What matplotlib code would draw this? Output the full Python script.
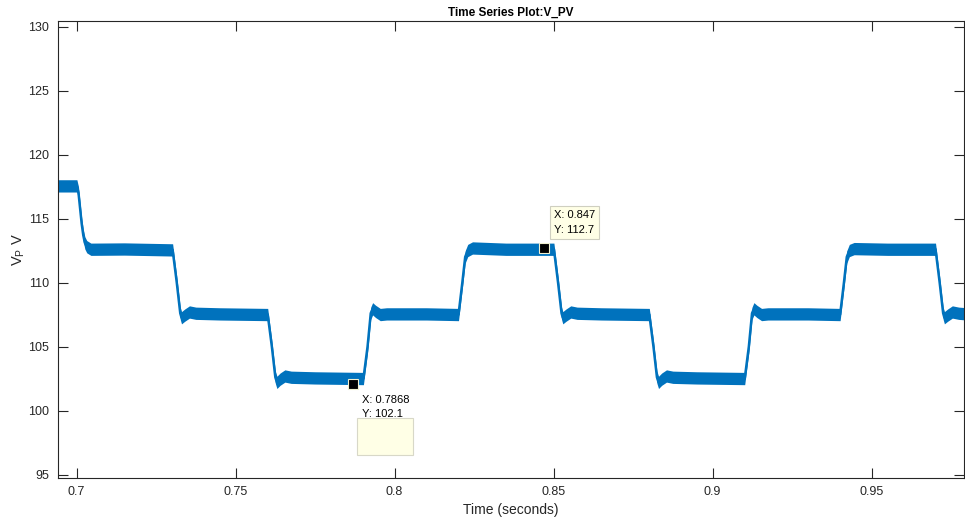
import numpy as np
import matplotlib
matplotlib.use("Agg")
import matplotlib.pyplot as plt
from matplotlib.patches import Rectangle
from matplotlib.transforms import Affine2D, ScaledTranslation

plt.rcParams['font.family'] = ['Liberation Sans', 'DejaVu Sans']
plt.rcParams['mathtext.default'] = 'regular'

# centre line of V_PV (s, V)
t_pts = [0.6940, 0.7001, 0.7006, 0.7011, 0.7016, 0.7021, 0.7026, 0.7032, 0.7045, 0.7150, 0.7300,
         0.7302, 0.7315, 0.7326, 0.7330, 0.7340, 0.7355, 0.7375, 0.7450, 0.7600,
         0.7601, 0.7614, 0.7625, 0.7630, 0.7640, 0.7655, 0.7675, 0.7750, 0.7900,
         0.7902, 0.7915, 0.7925, 0.7931, 0.7940, 0.7955, 0.7975, 0.8100, 0.8200,
         0.8201, 0.8213, 0.8222, 0.8230, 0.8245, 0.8350, 0.8500,
         0.8501, 0.8514, 0.8525, 0.8529, 0.8539, 0.8554, 0.8574, 0.8650, 0.8800,
         0.8801, 0.8814, 0.8825, 0.8830, 0.8840, 0.8855, 0.8875, 0.8950, 0.9100,
         0.9101, 0.9114, 0.9124, 0.9130, 0.9139, 0.9154, 0.9174, 0.9300, 0.9400,
         0.9401, 0.9413, 0.9422, 0.9430, 0.9445, 0.9550, 0.9700,
         0.9701, 0.9714, 0.9725, 0.9729, 0.9739, 0.9754, 0.9774, 0.9800]
v_pts = [117.55, 117.55, 117.0, 115.8, 114.6, 113.7, 113.1, 112.8, 112.6, 112.62, 112.55,
         112.55, 110.0, 107.6, 107.25, 107.45, 107.7, 107.6, 107.55, 107.5,
         107.5, 105.0, 102.6, 102.2, 102.45, 102.7, 102.6, 102.55, 102.5,
         102.5, 105.0, 107.6, 107.95, 107.75, 107.5, 107.55, 107.55, 107.5,
         107.5, 110.0, 112.0, 112.5, 112.7, 112.6, 112.6,
         112.6, 110.0, 107.6, 107.25, 107.45, 107.7, 107.6, 107.55, 107.5,
         107.5, 105.0, 102.6, 102.2, 102.45, 102.7, 102.6, 102.55, 102.5,
         102.5, 105.0, 107.6, 107.95, 107.75, 107.5, 107.55, 107.55, 107.5,
         107.5, 110.0, 112.0, 112.5, 112.65, 112.6, 112.6,
         112.6, 110.0, 107.6, 107.25, 107.45, 107.7, 107.6, 107.55]
ripple = 0.48  # half height of the switching ripple band

tips_x = [0.7868, 0.847]
tips_y = [102.1, 112.7]

xticks = [0.7, 0.75, 0.8, 0.85, 0.9, 0.95]
yticks = [95, 100, 105, 110, 115, 120, 125, 130]

blue = '#0072BD'
dark = '#262626'
tip_bg = '#ffffe6'

fig = plt.figure(figsize=(9.65, 5.21), dpi=100)
ax = fig.add_axes([57.5 / 965, 1 - 477.5 / 521, (963.5 - 57.5) / 965, (477.5 - 21) / 521])

t = np.array(t_pts)
v = np.array(v_pts)
ax.fill_between(t, v - ripple, v + ripple, color=blue, lw=0)
ax.plot(t, v, color=blue, lw=1.8)

ax.set_xlim(0.6940, 0.9789)
ax.set_ylim(94.77, 130.43)
ax.set_xticks(xticks)
ax.set_xticklabels([f'{x:g}' for x in xticks])
ax.set_yticks(yticks)

ax.tick_params(direction='in', length=7, width=0.8, colors=dark, labelsize=9,
               top=True, right=True, pad=6)
for s in ax.spines.values():
    s.set_color(dark)
    s.set_linewidth(0.8)

ax.set_title('Time Series Plot:V_PV', fontsize=8.5, fontweight='bold', color='black', pad=4)
ax.set_xlabel('Time (seconds)', fontsize=10, color=dark, labelpad=4)
ax.set_ylabel('V$_P$ V', fontsize=10.5, color=dark)
ax.yaxis.set_label_coords(-30 / 906, 0.5)

# data tips
ax.plot(tips_x, tips_y, 's', color='black', ms=6.5, mec='#f0f0d0', mew=0.8, zorder=5)

ax.annotate('X: 0.7868\nY: 102.1', (tips_x[0], tips_y[0]), xytext=(9, -11),
            textcoords='offset pixels', fontsize=8, va='top', ha='left',
            linespacing=1.55, color='black', zorder=6)

# the empty yellow box under the first tip (pixel offsets from the tip)
px_from_tip = Affine2D() + ScaledTranslation(tips_x[0], tips_y[0], ax.transData)
ax.add_patch(Rectangle((4.5, -71), 56, 37, transform=px_from_tip, fc=tip_bg,
                       ec='#d8d8c8', lw=0.8, zorder=4, clip_on=False))

ax.annotate('X: 0.847\nY: 112.7', (tips_x[1], tips_y[1]), xytext=(10, 13),
            textcoords='offset pixels', fontsize=8, va='bottom', ha='left',
            linespacing=1.6, color='black', zorder=6,
            bbox=dict(boxstyle='square,pad=0.35', fc=tip_bg, ec='#cfcfc0', lw=0.8))

fig.savefig('out.png', dpi=100)
